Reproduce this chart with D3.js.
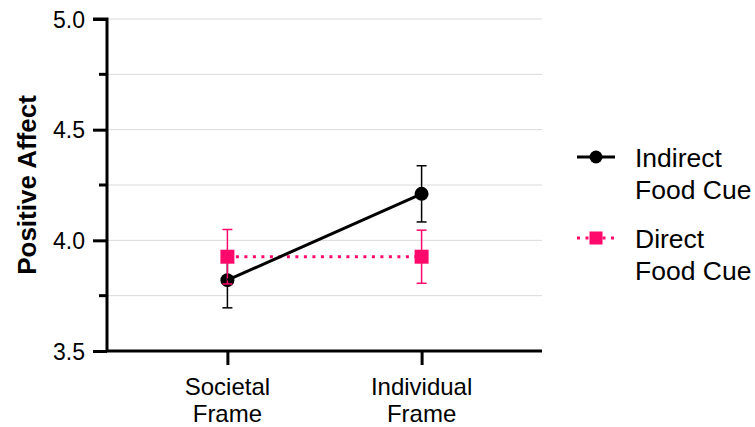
<!DOCTYPE html>
<html><head><meta charset="utf-8">
<script src="https://cdn.jsdelivr.net/npm/d3@7"></script>
<style>body{margin:0;background:#fff}svg{display:block}text{font-family:"Liberation Sans",Arial,sans-serif}</style>
</head><body><svg id="c" width="755" height="427"></svg>
<script>
const categories = ["Societal\nFrame", "Individual\nFrame"];
const seriesNames = ["Indirect\nFood Cue", "Direct\nFood Cue"];
const indirectMeans = [3.82, 4.21];
const indirectSE = [0.125, 0.127];
const directMeans = [3.926, 3.926];
const directSE = [0.123, 0.12];
const yTicks = [3.5, 4.0, 4.5, 5.0];
const yMinorTicks = [3.75, 4.25, 4.75];
const colors = ["#000000", "#FF0A6C"];

const svg = d3.select("#c");
const L = 107, R = 542, T = 19, B = 351;
const y = d3.scaleLinear().domain([3.5, 5.0]).range([B, T]);
const x = d3.scalePoint().domain(categories).range([L, R]).padding(0.62);

// grid
svg.append("g").selectAll("line").data(yTicks.concat(yMinorTicks).filter(v => v > 3.5))
  .join("line").attr("x1", L).attr("x2", R).attr("y1", d => y(d)).attr("y2", d => y(d))
  .attr("stroke", "#d9d9d9").attr("stroke-width", 1);

// y axis
const ya = svg.append("g").attr("transform", `translate(${L},0)`)
  .call(d3.axisLeft(y).tickValues(yTicks).tickFormat(d3.format(".1f")).tickSize(14).tickPadding(8));
ya.attr("font-size", null).attr("font-family", null);
ya.select(".domain").attr("stroke-width", 3).attr("d", `M-14,${T}H0V${B}`);
ya.selectAll(".tick line").attr("stroke-width", 3);
ya.selectAll(".tick text").style("font-size", "23px").attr("fill", "#000").attr("dy", "0.36em");
svg.append("g").attr("transform", `translate(${L},0)`).selectAll("line").data(yMinorTicks).join("line")
  .attr("x1", -8).attr("x2", 0).attr("y1", d => y(d)).attr("y2", d => y(d)).attr("stroke", "#000").attr("stroke-width", 3);

// x axis
const xa = svg.append("g").attr("transform", `translate(0,${B})`)
  .call(d3.axisBottom(x).tickSize(14).tickFormat(""));
xa.select(".domain").attr("stroke-width", 3).attr("d", `M${L},0H${R}`);
xa.selectAll(".tick line").attr("stroke-width", 3);
categories.forEach(c => {
  const t = svg.append("text").attr("text-anchor", "middle").style("font-size", "24px").attr("fill", "#000");
  c.split("\n").forEach((s, i) => t.append("tspan").attr("x", x(c)).attr("y", 395 + i * 27).text(s));
});

// y label
svg.append("text").attr("transform", `translate(36,${(T + B) / 2}) rotate(-90)`)
  .attr("text-anchor", "middle").style("font-size", "26px").attr("font-weight", "bold").text("Positive Affect");

const series = [
  {means: indirectMeans, se: indirectSE, color: colors[0], dash: null, shape: "circle"},
  {means: directMeans, se: directSE, color: colors[1], dash: "3,5.5", shape: "square"}
];
function marker(g, s, cx, cy, sz) {
  if (s.shape === "circle") g.append("circle").attr("cx", cx).attr("cy", cy).attr("r", sz / 2).attr("fill", s.color);
  else g.append("rect").attr("x", cx - sz / 2).attr("y", cy - sz / 2).attr("width", sz).attr("height", sz).attr("fill", s.color);
}
const gIndirect = svg.append("g"), gDirect = svg.append("g");
series.forEach((s, si) => {
  const g = si === 0 ? gIndirect : gDirect;
  categories.forEach((c, i) => {
    const cx = x(c), m = s.means[i], e = s.se[i];
    g.append("line").attr("x1", cx).attr("x2", cx).attr("y1", y(m + e)).attr("y2", y(m - e)).attr("stroke", s.color).attr("stroke-width", 1.5);
    [m + e, m - e].forEach(v => g.append("line").attr("x1", cx - 5).attr("x2", cx + 5).attr("y1", y(v)).attr("y2", y(v)).attr("stroke", s.color).attr("stroke-width", 1.5));
  });
  const line = d3.line().x((d, i) => x(categories[i])).y(d => y(d));
  g.append("path").attr("d", line(s.means)).attr("fill", "none").attr("stroke", s.color).attr("stroke-width", 3)
    .attr("stroke-dasharray", s.dash);
  categories.forEach((c, i) => marker(g, s, x(c), y(s.means[i]), 14));
});
svg.node().appendChild(gIndirect.select("path").node());

// legend
series.forEach((s, si) => {
  const ly = 157 + si * 81;
  const g = svg.append("g");
  g.append("line").attr("x1", 577).attr("x2", 615).attr("y1", ly).attr("y2", ly).attr("stroke", s.color).attr("stroke-width", 3).attr("stroke-dasharray", s.dash);
  marker(g, s, 596, ly, 13);
  const t = g.append("text").style("font-size", "26.5px").attr("fill", "#000");
  seriesNames[si].split("\n").forEach((n, i) => t.append("tspan").attr("x", 635).attr("y", ly + 10 + i * 32).text(n));
});
</script></body></html>
